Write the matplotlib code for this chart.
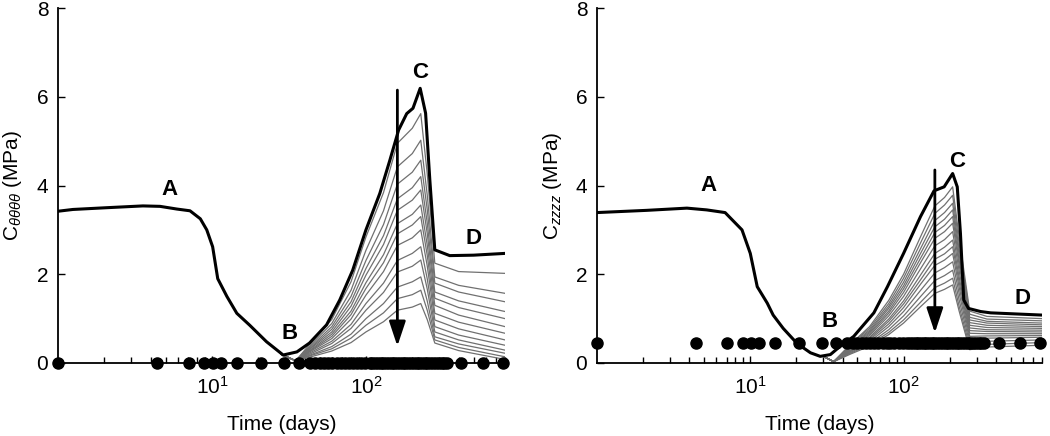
import matplotlib
matplotlib.use("Agg")
import matplotlib.pyplot as plt

plt.rcParams["font.family"] = ["Liberation Sans", "DejaVu Sans"]
plt.rcParams["mathtext.fontset"] = "custom"
plt.rcParams["mathtext.rm"] = "Liberation Sans"
plt.rcParams["mathtext.it"] = "Liberation Sans:italic"
plt.rcParams["mathtext.bf"] = "Liberation Sans:bold"

# 1) Datos (leidos de la figura)
# tiempos de los puntos experimentales (dias)
dot_t = [1, 4.4, 7.1, 8.9, 10.1, 11.4, 14.5, 20.7, 29.5, 36.5, 43, 47, 50, 53.5,
         56.6, 60, 64.5, 68.5, 73, 77.5, 82, 87, 93, 99, 106, 110, 115, 120, 125,
         130, 135, 141, 147, 153, 159, 166, 173, 180, 188, 196, 204, 213, 222, 231,
         241, 251, 262, 273, 285, 297, 310, 322, 334, 417, 577, 780]
dot_y_left = 0.0
dot_y_right = 0.45

# panel izquierdo: C_thetathetathetatheta, curva principal
left_t = [1, 1.25, 2.08, 3.56, 4.6, 5.9, 7.2, 8.4, 9.25, 10.1, 10.9, 12.5, 14.5, 17.6,
          22.6, 29, 35.6, 43, 55.5, 67.6, 82, 100, 123, 143, 163, 184, 202, 225,
          244, 260, 280, 350, 500, 800]
left_y = [3.42, 3.46, 3.5, 3.54, 3.53, 3.47, 3.43, 3.25, 3.0, 2.62, 1.9, 1.5, 1.12, 0.85,
          0.48, 0.18, 0.25, 0.45, 0.86, 1.42, 2.09, 3.0, 3.82, 4.57, 5.25, 5.62, 5.74,
          6.19, 5.63, 4.12, 2.55, 2.42, 2.43, 2.47]

# panel izquierdo: curvas grises
left_grey_t = [28, 35, 45, 60, 80, 100, 130, 160, 200, 227, 250, 280, 400, 800]
left_grey = [
    [0.2, 0.05, 0.50, 0.98, 1.83, 2.84, 3.84, 4.95, 5.29, 5.62, 4.27, 2.25, 2.06, 2.02],
    [0.2, 0.05, 0.45, 0.89, 1.64, 2.54, 3.43, 4.42, 4.72, 5.02, 3.79, 1.94, 1.75, 1.57],
    [0.2, 0.05, 0.41, 0.82, 1.50, 2.31, 3.12, 4.03, 4.30, 4.57, 3.46, 1.80, 1.60, 1.38],
    [0.2, 0.05, 0.38, 0.76, 1.38, 2.13, 2.87, 3.70, 3.95, 4.20, 3.16, 1.60, 1.40, 1.16],
    [0.2, 0.05, 0.36, 0.70, 1.28, 1.98, 2.67, 3.44, 3.67, 3.90, 2.92, 1.46, 1.25, 1.00],
    [0.2, 0.05, 0.33, 0.65, 1.17, 1.81, 2.44, 3.14, 3.35, 3.56, 2.66, 1.30, 1.08, 0.82],
    [0.2, 0.05, 0.31, 0.60, 1.09, 1.68, 2.26, 2.91, 3.11, 3.30, 2.43, 1.12, 0.92, 0.67],
    [0.2, 0.05, 0.29, 0.55, 0.99, 1.53, 2.06, 2.65, 2.82, 3.00, 2.19, 0.97, 0.77, 0.52],
    [0.2, 0.05, 0.26, 0.49, 0.87, 1.34, 1.80, 2.31, 2.47, 2.62, 1.90, 0.82, 0.63, 0.40],
    [0.2, 0.05, 0.23, 0.44, 0.78, 1.19, 1.59, 2.05, 2.18, 2.32, 1.67, 0.70, 0.52, 0.29],
    [0.2, 0.05, 0.20, 0.37, 0.65, 1.00, 1.34, 1.71, 1.83, 1.94, 1.40, 0.59, 0.43, 0.22],
    [0.2, 0.05, 0.18, 0.32, 0.56, 0.85, 1.13, 1.45, 1.54, 1.64, 1.19, 0.52, 0.35, 0.14],
    [0.2, 0.05, 0.15, 0.27, 0.46, 0.70, 0.93, 1.19, 1.26, 1.34, 0.98, 0.45, 0.28, 0.08],
]

# panel derecho: C_zzzz, curva principal
right_t = [1, 2.11, 3.86, 5.2, 6.85, 8.83, 10, 11.1, 12.9, 14.1, 16.4, 20.2, 24.7,
           28.6, 33.3, 38.7, 47.3, 64, 78.5, 100, 129, 158, 184, 209, 224, 235, 247,
           265, 318, 370, 800]
right_y = [3.39, 3.44, 3.49, 3.45, 3.39, 3.0, 2.47, 1.72, 1.35, 1.08, 0.78, 0.44,
           0.23, 0.15, 0.19, 0.38, 0.6, 1.13, 1.72, 2.47, 3.3, 3.88, 3.97, 4.27, 3.97,
           2.92, 1.42, 1.23, 1.16, 1.13, 1.08]

# panel derecho: curvas grises
right_grey_t = [30, 35, 45, 60, 80, 100, 130, 160, 185, 209, 230, 270, 350, 800]
right_grey = [
    [0.15, 0.03, 0.42, 0.82, 1.41, 2.00, 2.87, 3.54, 3.73, 3.97, 2.85, 1.17, 1.05, 1.00],
    [0.15, 0.03, 0.41, 0.78, 1.34, 1.91, 2.73, 3.37, 3.56, 3.78, 2.71, 1.10, 0.99, 0.95],
    [0.15, 0.03, 0.39, 0.74, 1.28, 1.82, 2.60, 3.21, 3.39, 3.60, 2.57, 1.03, 0.94, 0.90],
    [0.15, 0.03, 0.37, 0.71, 1.23, 1.74, 2.49, 3.07, 3.24, 3.45, 2.46, 0.97, 0.90, 0.86],
    [0.15, 0.03, 0.36, 0.68, 1.17, 1.67, 2.38, 2.94, 3.10, 3.30, 2.34, 0.91, 0.85, 0.82],
    [0.15, 0.03, 0.34, 0.65, 1.12, 1.59, 2.28, 2.81, 2.96, 3.15, 2.23, 0.85, 0.80, 0.78],
    [0.15, 0.03, 0.32, 0.62, 1.06, 1.50, 2.14, 2.64, 2.78, 2.96, 2.09, 0.79, 0.75, 0.74],
    [0.15, 0.03, 0.30, 0.58, 0.99, 1.40, 2.00, 2.47, 2.61, 2.77, 1.95, 0.73, 0.71, 0.70],
    [0.15, 0.03, 0.29, 0.55, 0.94, 1.33, 1.89, 2.34, 2.46, 2.62, 1.84, 0.67, 0.66, 0.66],
    [0.15, 0.03, 0.27, 0.52, 0.88, 1.25, 1.79, 2.20, 2.32, 2.47, 1.72, 0.60, 0.61, 0.62],
    [0.15, 0.03, 0.26, 0.48, 0.82, 1.16, 1.65, 2.03, 2.15, 2.28, 1.58, 0.53, 0.56, 0.58],
    [0.15, 0.03, 0.24, 0.44, 0.75, 1.06, 1.51, 1.86, 1.97, 2.09, 1.43, 0.45, 0.49, 0.52],
    [0.15, 0.03, 0.22, 0.41, 0.69, 0.97, 1.38, 1.70, 1.80, 1.91, 1.29, 0.37, 0.42, 0.46],
    [0.15, 0.03, 0.20, 0.38, 0.64, 0.90, 1.28, 1.57, 1.66, 1.76, 1.18, 0.30, 0.36, 0.40],
]

# etiquetas A-D: (t, y)
left_marks = {"A": (5.33, 3.9), "B": (32, 0.67), "C": (225, 6.55), "D": (500, 2.8)}
right_marks = {"A": (5.3, 4.0), "B": (33, 0.93), "C": (225, 4.55), "D": (600, 1.46)}

# flechas: (t, y inicio, y fin)
left_arrow = (160, 6.15, 0.38)
right_arrow = (160, 4.35, 0.68)

ylabels = [r"C$_{\theta\theta\theta\theta}$ (MPa)", r"C$_{zzzz}$ (MPa)"]

# 2) Figura
fig = plt.figure(figsize=(10.5, 4.36), dpi=100)
ax1 = fig.add_axes([58 / 1050, 1 - 363 / 436, 447 / 1050, 355 / 436])
ax2 = fig.add_axes([597 / 1050, 1 - 363 / 436, 445 / 1050, 355 / 436])

panels = [
    (ax1, left_t, left_y, left_grey_t, left_grey, dot_y_left, left_marks, left_arrow),
    (ax2, right_t, right_y, right_grey_t, right_grey, dot_y_right, right_marks, right_arrow),
]

for i, (ax, t, y, gt, greys, dy, marks, arr) in enumerate(panels):
    for g in greys:
        ax.plot(gt, g, color="#707070", lw=0.9, zorder=2)
    ax.plot(t, y, color="black", lw=2.2, zorder=3)
    ax.plot(dot_t, [dy] * len(dot_t), "o", color="black", ms=8, zorder=4, clip_on=False)

    at, y0, y1 = arr
    ax.annotate("", xy=(at, y1), xytext=(at, y0),
                arrowprops=dict(arrowstyle="-|>,head_length=0.75,head_width=0.25",
                                mutation_scale=20, lw=2, color="black",
                                shrinkA=0, shrinkB=0), zorder=5)

    for lab, (lx, ly) in marks.items():
        ax.text(lx, ly, lab, ha="center", va="center", fontsize=16, fontweight="bold")

    ax.set_xscale("log")
    ax.set_xlim(1, 800)
    ax.set_ylim(0, 8)
    ax.set_xticks([10, 100])
    ax.set_yticks([0, 2, 4, 6, 8])
    ax.spines["top"].set_visible(False)
    ax.spines["right"].set_visible(False)
    for s in ("left", "bottom"):
        ax.spines[s].set_linewidth(1.3)
    ax.tick_params(which="both", direction="in", labelsize=15, width=1)
    ax.tick_params(which="major", length=5, pad=7)
    ax.tick_params(axis="x", which="major", pad=9)
    ax.tick_params(which="minor", length=4)
    ax.set_xlabel("Time (days)", fontsize=15, labelpad=13)
    ax.set_ylabel(ylabels[i], fontsize=15)
    ax.yaxis.set_label_coords(-0.075, 0.5)

plt.savefig("out.png", dpi=100)
